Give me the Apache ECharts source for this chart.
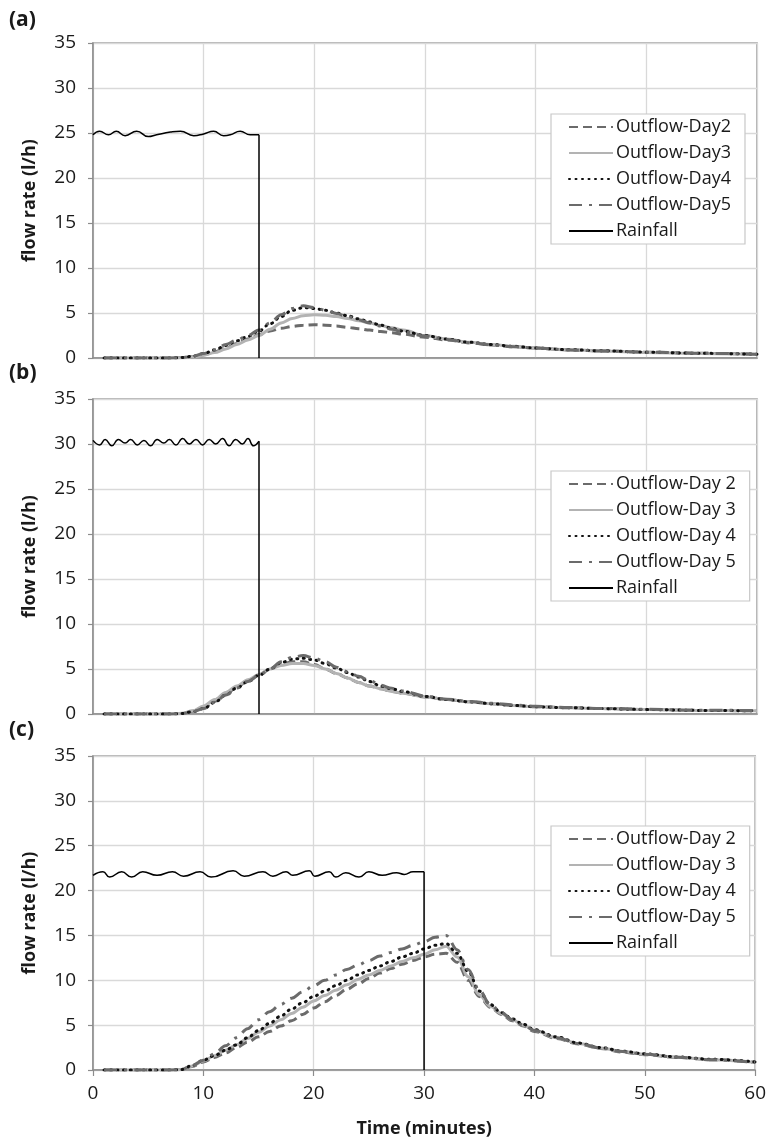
<!DOCTYPE html>
<html>
<head>
<meta charset="utf-8">
<script src="https://cdn.jsdelivr.net/npm/echarts@6/dist/echarts.min.js"></script>
<style>
  html, body { margin: 0; padding: 0; background: #fff; }
  #chart { width: 769px; height: 1142px; }
</style>
</head>
<body>
<div id="chart"></div>
<script>
// shared time axis (minutes) for outflow curves in panels (a) and (b)
var tAB = [1,4,7,8,9,10,11,12,13,14,15,16,17,18,19,20,21,22,23,24,25,26,27,28,30,32,34,36,38,40,43,46,50,55,60];

// panel (a)
var a2 = [0,0,0,0.05,0.15,0.35,0.7,1.1,1.6,2.1,2.6,3.0,3.3,3.5,3.65,3.7,3.65,3.55,3.4,3.25,3.1,2.95,2.8,2.65,2.3,2.0,1.7,1.45,1.25,1.1,0.9,0.78,0.65,0.52,0.42];
var a3 = [0,0,0,0.03,0.1,0.3,0.6,1.0,1.5,2.0,2.5,3.2,3.9,4.4,4.7,4.8,4.75,4.6,4.4,4.15,3.9,3.6,3.35,3.1,2.5,2.1,1.75,1.5,1.3,1.1,0.92,0.78,0.62,0.5,0.4];
var a4 = [0,0,0,0.05,0.2,0.5,0.9,1.4,1.9,2.4,3.0,3.8,4.6,5.3,5.6,5.5,5.3,5.0,4.7,4.35,4.0,3.65,3.3,3.0,2.5,2.1,1.75,1.5,1.3,1.1,0.92,0.8,0.65,0.52,0.42];
var a5 = [0,0,0,0.05,0.2,0.5,0.9,1.5,2.0,2.5,3.1,3.9,4.8,5.5,5.8,5.6,5.3,4.95,4.6,4.25,3.9,3.55,3.2,2.9,2.45,2.05,1.7,1.45,1.25,1.1,0.9,0.78,0.65,0.52,0.42];
var rainTA = [0,0.6,1.4,2.1,2.9,3.95,5.0,5.75,7.0,7.9,9.1,10.0,10.9,11.8,12.4,13.3,14.2,15.0];
var rainA  = [24.8,25.2,24.8,25.2,24.7,25.2,24.6,24.8,25.1,25.2,24.7,24.9,25.2,24.7,24.8,25.2,24.8,24.8];

// panel (b)
var b2 = [0,0,0,0.05,0.3,0.7,1.4,2.2,3.0,3.7,4.3,5.0,5.5,5.8,5.8,5.5,5.0,4.5,4.0,3.5,3.1,2.8,2.5,2.3,1.9,1.6,1.35,1.15,0.95,0.8,0.7,0.6,0.5,0.4,0.35];
var b3 = [0,0,0,0.08,0.35,0.9,1.6,2.4,3.1,3.8,4.4,5.0,5.4,5.6,5.6,5.4,5.0,4.5,4.0,3.5,3.1,2.8,2.5,2.3,1.9,1.6,1.35,1.15,0.95,0.8,0.7,0.6,0.5,0.4,0.35];
var b4 = [0,0,0,0.05,0.25,0.6,1.3,2.1,2.9,3.6,4.3,5.0,5.7,6.1,6.2,6.0,5.6,5.1,4.6,4.1,3.6,3.1,2.8,2.5,1.95,1.6,1.35,1.15,0.95,0.8,0.7,0.6,0.5,0.4,0.35];
var b5 = [0,0,0,0.05,0.25,0.6,1.3,2.1,2.9,3.6,4.3,5.0,5.8,6.3,6.5,6.2,5.8,5.2,4.7,4.2,3.7,3.2,2.85,2.55,2.0,1.65,1.4,1.2,1.0,0.85,0.72,0.62,0.52,0.42,0.38];
var rainTB = [0,0.6,1.1,1.7,2.3,2.9,3.4,4.0,4.6,5.2,5.8,6.4,6.9,7.5,8.1,8.7,9.3,9.9,10.5,11.1,11.7,12.3,12.9,13.5,14.0,14.5,15.0];
var rainB  = [30.4,29.9,30.5,29.8,30.5,30.1,30.5,29.9,30.4,29.8,30.5,30.1,30.5,29.9,30.6,30.0,30.5,29.9,30.5,30.0,30.6,29.8,30.5,30.0,30.6,29.8,30.3];

// panel (c)
var tC = [1,4,7,8,9,10,11,12,13,14,15,16,17,18,19,20,21,22,23,24,25,26,27,28,29,30,31,32,33,34,35,36,37,38,39,40,42,44,46,48,50,53,56,60];
var c2 = [0,0,0,0.05,0.4,0.9,1.4,1.9,2.5,3.1,3.7,4.3,4.9,5.5,6.2,6.9,7.6,8.3,9.0,9.6,10.2,10.8,11.3,11.8,12.2,12.6,12.9,13.0,12.0,10.0,8.2,7.0,6.2,5.5,4.9,4.3,3.5,2.9,2.4,2.0,1.7,1.4,1.15,0.85];
var c3 = [0,0,0,0.05,0.45,1.0,1.6,2.2,2.8,3.5,4.2,4.9,5.6,6.3,7.0,7.7,8.3,8.9,9.5,10.1,10.6,11.1,11.6,12.1,12.5,12.9,13.4,13.8,12.6,10.4,8.4,7.1,6.3,5.6,5.0,4.4,3.6,2.95,2.45,2.05,1.75,1.42,1.15,0.85];
var c4 = [0,0,0,0.05,0.5,1.1,1.6,2.2,2.8,3.6,4.4,5.2,6.0,6.8,7.5,8.2,8.8,9.4,10.0,10.6,11.1,11.6,12.1,12.6,13.0,13.5,13.9,14.1,13.0,11.0,8.8,7.3,6.4,5.7,5.1,4.5,3.7,3.0,2.5,2.1,1.8,1.45,1.2,0.9];
var c5 = [0,0,0,0.05,0.5,1.1,1.8,2.7,3.6,4.6,5.6,6.5,7.3,8.0,8.7,9.4,10.0,10.6,11.2,11.7,12.2,12.7,13.1,13.5,13.9,14.3,14.8,15.0,13.4,11.2,8.9,7.3,6.4,5.6,5.0,4.4,3.6,2.95,2.45,2.05,1.75,1.42,1.15,0.85];
var rainTC = [0,0.9,1.5,2.6,3.5,4.5,5.8,7.2,8.2,9.7,10.7,12.7,13.7,15.4,16.3,17.5,18.1,19.6,20.1,21.4,22.0,22.9,24.1,25.0,26.2,27.5,28.2,29.0,30.0];
var rainC  = [21.7,22.1,21.5,22.1,21.5,22.1,21.7,22.1,21.6,22.1,21.5,22.2,21.6,22.1,21.6,22.1,21.7,22.2,21.6,22.1,21.5,22.0,21.5,22.1,21.7,22.0,21.8,22.1,22.1];

var namesA = ['Outflow-Day2','Outflow-Day3','Outflow-Day4','Outflow-Day5','Rainfall'];
var namesBC = ['Outflow-Day 2','Outflow-Day 3','Outflow-Day 4','Outflow-Day 5','Rainfall'];

var FONT = '"Open Sans"';
var lineStyles = [
  { color: '#6b6b6b', width: 3, type: [9, 5] },
  { color: '#b3b3b3', width: 3, type: 'solid' },
  { color: '#111111', width: 3, type: [1, 5.5], cap: 'round' },
  { color: '#6b6b6b', width: 3, type: [13, 7, 3, 7] },
  { color: '#000000', width: 1.5, type: 'solid' }
];

function zip(ts, vs) {
  var out = [];
  for (var i = 0; i < ts.length; i++) out.push([ts[i], vs[i]]);
  return out;
}

function panelSeries(idx, names, t, d2, d3, d4, d5, rt, rv) {
  var list = [];
  var vals = [d2, d3, d4, d5];
  for (var k = 0; k < 4; k++) {
    list.push({
      type: 'line', name: names[k], xAxisIndex: idx, yAxisIndex: idx,
      data: zip(t, vals[k]), showSymbol: false, symbol: 'none',
      smooth: 0.35, smoothMonotone: 'x',
      lineStyle: lineStyles[k], itemStyle: { color: lineStyles[k].color },
      animation: false, z: 2 + k
    });
  }
  // rainfall: wavy plateau then vertical drop at the end of the event
  var last = rt.length - 1;
  list.push({
    type: 'line', name: 'Rainfall', xAxisIndex: idx, yAxisIndex: idx,
    data: zip(rt, rv), showSymbol: false, symbol: 'none', smooth: 0.5,
    lineStyle: lineStyles[4], itemStyle: { color: '#000' }, animation: false, z: 8
  });
  list.push({
    type: 'line', name: 'Rainfall', xAxisIndex: idx, yAxisIndex: idx,
    data: [[rt[last], rv[last]], [rt[last], 0]], showSymbol: false, symbol: 'none',
    lineStyle: lineStyles[4], itemStyle: { color: '#000' }, animation: false, z: 8
  });
  return list;
}

var gridTops = [43, 399, 756];
var gridH = [315, 315, 314];

var grids = [], xAxes = [], yAxes = [], legends = [], titles = [];
var labels = ['(a)', '(b)', '(c)'];
var labelTops = [10, 363, 720];
var legendTops = [114, 471, 826];

for (var i = 0; i < 3; i++) {
  grids.push({
    left: 93, right: 12, top: gridTops[i], height: gridH[i],
    show: true, borderColor: '#9a9a9a', borderWidth: 1.5, backgroundColor: '#fff'
  });
  var last = i === 2;
  xAxes.push({
    type: 'value', gridIndex: i, min: 0, max: 60, interval: 10,
    axisLine: { show: true, onZero: false, lineStyle: { color: '#8c8c8c', width: 1.5 } },
    axisTick: { show: last, length: 6, lineStyle: { color: '#8c8c8c', width: 1.2 } },
    axisLabel: { show: last, fontSize: 19, color: '#1a1a1a', fontFamily: FONT, margin: 14 },
    splitLine: { show: true, lineStyle: { color: '#d9d9d9', width: 1.3 } },
    name: last ? 'Time (minutes)' : '', nameLocation: 'middle', nameGap: 50,
    nameTextStyle: { fontSize: 18, fontWeight: 'bold', color: '#1a1a1a', fontFamily: FONT }
  });
  yAxes.push({
    type: 'value', gridIndex: i, min: 0, max: 35, interval: 5,
    axisLine: { show: true, lineStyle: { color: '#8c8c8c', width: 1.5 } },
    axisTick: { show: true, length: 5, lineStyle: { color: '#8c8c8c', width: 1.2 } },
    axisLabel: { fontSize: 19, color: '#1a1a1a', fontFamily: FONT, margin: 17 },
    splitLine: { show: true, lineStyle: { color: '#d9d9d9', width: 1.3 } },
    name: 'flow rate (l/h)', nameLocation: 'middle', nameGap: 54,
    nameTextStyle: { fontSize: 18, fontWeight: 'bold', color: '#1a1a1a', fontFamily: FONT }
  });
  legends.push({
    data: i === 0 ? namesA : namesBC,
    orient: 'vertical', left: 551, top: legendTops[i],
    itemWidth: 44, itemHeight: 14, itemGap: 8,
    padding: [4, 14, 4, 17],
    backgroundColor: '#fff', borderColor: '#c8c8c8', borderWidth: 1.2,
    selectedMode: false,
    itemStyle: { opacity: 0 },
    textStyle: { fontSize: 18, color: '#1a1a1a', fontFamily: FONT, padding: [0, 0, 0, -2], lineHeight: 18 }
  });
  titles.push({
    text: labels[i], left: 9, top: labelTops[i], padding: 0,
    textStyle: { fontSize: 21, fontWeight: 'bold', color: '#1a1a1a', fontFamily: FONT }
  });
}

var series = []
  .concat(panelSeries(0, namesA, tAB, a2, a3, a4, a5, rainTA, rainA))
  .concat(panelSeries(1, namesBC, tAB, b2, b3, b4, b5, rainTB, rainB))
  .concat(panelSeries(2, namesBC, tC, c2, c3, c4, c5, rainTC, rainC));

var chart = echarts.init(document.getElementById('chart'), null, { renderer: 'canvas' });
chart.setOption({
  backgroundColor: '#fff',
  animation: false,
  title: titles,
  grid: grids,
  xAxis: xAxes,
  yAxis: yAxes,
  legend: legends,
  series: series
});
</script>
</body>
</html>
